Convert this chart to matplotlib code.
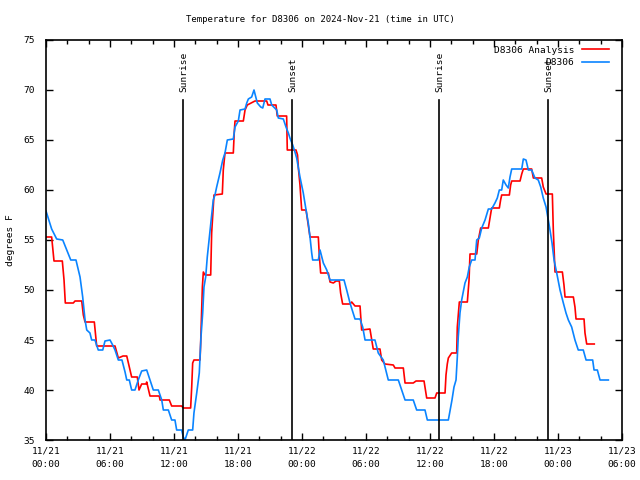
import matplotlib
matplotlib.use("Agg")
import matplotlib.pyplot as plt
from matplotlib.ticker import MultipleLocator

plt.rcParams['font.family'] = ['DejaVu Sans Mono']

# hours since 2024-11-21 00:00 UTC
blue_hours = [0.0, 0.53, 1.0, 1.57, 1.94, 2.32, 2.81, 3.19, 3.44, 3.66, 3.82, 4.12, 4.28,
              4.59, 4.9, 5.32, 5.53, 6.0, 6.25, 6.47, 6.78, 7.12, 7.41, 7.57, 7.81, 8.03,
              8.34, 8.65, 8.97, 9.44, 9.75, 10.06, 10.53, 10.85, 11.0, 11.47, 11.78, 12.09,
              12.25, 12.72, 12.87, 13.03, 13.34, 13.75, 13.87, 14.13, 14.37, 14.53, 14.69,
              14.81, 14.97, 15.12, 15.31, 15.53, 15.68, 15.84, 16.0, 16.31, 16.57, 16.78,
              17.0, 17.56, 17.72, 18.03, 18.19, 18.66, 18.82, 18.97, 19.28, 19.5, 19.69,
              19.81, 20.13, 20.32, 20.53, 21.0, 21.16, 21.63, 21.78, 22.25, 22.5, 22.72,
              22.87, 23.13, 23.34, 23.5, 23.81, 24.12, 24.38, 24.59, 24.75, 24.91, 25.0,
              25.53, 25.69, 26.0, 26.32, 26.63, 27.94, 28.19, 28.5, 28.97, 29.44, 29.69,
              29.91, 30.84, 31.15, 31.62, 32.09, 33.03, 33.35, 33.66, 34.43, 34.75, 35.53,
              35.75, 37.72, 37.94, 38.06, 38.25, 38.44, 38.56, 38.65, 38.81, 38.97, 39.12,
              39.28, 39.5, 39.68, 39.91, 40.22, 40.38, 40.62, 40.85, 41.16, 41.47, 41.78,
              42.09, 42.31, 42.5, 42.72, 42.87, 43.13, 43.34, 43.5, 43.66, 44.6, 44.75,
              45.0, 45.22, 45.53, 45.84, 46.15, 46.38, 46.62, 46.88, 47.09, 47.25, 47.44,
              47.63, 47.88, 48.19, 48.5, 48.75, 48.97, 49.28, 49.59, 49.9, 50.37, 50.63,
              51.25, 51.38, 51.69, 51.94, 52.72]
blue_temps = [57.9, 56.1, 55.1, 55.0, 54.0, 53.0, 53.0, 51.3, 49.3, 47.0, 46.0, 45.7, 45.0,
              45.0, 44.0, 44.0, 44.9, 45.0, 44.5, 44.0, 43.0, 43.0, 41.8, 41.0, 41.0, 40.0,
              40.0, 41.0, 41.9, 42.0, 41.0, 40.0, 40.0, 39.0, 38.0, 38.0, 37.0, 37.0,
              36.0, 36.0, 35.3, 35.0, 36.0, 36.0, 37.7, 39.7, 41.7, 45.3, 47.7,
              50.3, 51.3, 53.3, 55.2, 57.5, 59.0, 59.5, 60.3, 61.7, 63.0, 63.7,
              65.0, 65.1, 66.3, 66.9, 68.0, 68.1, 68.7, 69.1, 69.3, 70.0, 69.2,
              68.7, 68.3, 68.2, 69.1, 69.1, 68.5, 68.0, 67.2, 67.1, 66.3, 65.7,
              65.2, 64.5, 63.8, 63.2, 61.3, 59.7, 58.0, 56.7, 55.3, 53.7, 53.0,
              53.0, 54.0, 52.7, 52.0, 51.0, 51.0, 50.0, 48.7, 47.1, 47.1, 46.3,
              45.0, 45.0, 43.7, 43.0, 41.0, 41.0, 40.0, 39.0, 39.0, 38.0, 38.0,
              37.0, 37.0, 38.3, 39.0, 40.3, 41.0, 43.3, 45.3, 47.7, 49.0, 49.8,
              50.7, 51.3, 52.3, 53.0, 53.0, 55.0, 55.2, 56.2, 57.0, 58.1, 58.1,
              58.7, 59.2, 60.0, 60.0, 61.0, 60.5, 60.2, 61.3, 62.1, 62.1, 63.1,
              63.0, 62.0, 62.0, 61.2, 61.0, 60.3, 59.2, 58.3, 57.0, 56.0, 54.7,
              53.0, 51.7, 50.0, 48.7, 47.7, 47.0, 46.3, 45.0, 44.0, 44.0, 43.0,
              43.0, 42.0, 42.0, 41.0, 41.0]

red_hours = [0.0, 0.53, 0.75, 1.53, 1.69, 1.81, 2.56, 2.72, 3.35, 3.5, 3.66, 4.53, 4.75,
             6.47, 6.78, 7.22, 7.57, 8.03, 8.56, 8.72, 8.97, 9.38, 9.44, 9.75, 10.62, 10.69,
             11.56, 11.78, 12.72, 12.87, 13.56, 13.66, 13.75, 13.87, 14.44, 14.5, 14.66,
             14.75, 14.91, 15.44, 15.53, 15.75, 16.53, 16.62, 16.78, 17.56, 17.65, 17.72,
             18.5, 18.66, 18.87, 19.59, 20.69, 20.81, 21.56, 21.68, 22.56, 22.62, 23.44,
             23.58, 23.66, 23.81, 23.97, 24.38, 24.59, 24.75, 25.53, 25.62, 25.75, 26.47,
             26.63, 26.94, 27.19, 27.5, 27.62, 27.81, 28.5, 28.66, 28.97, 29.44, 29.59,
             30.37, 30.68, 31.31, 31.47, 31.78, 32.56, 32.72, 33.5, 33.66, 34.43, 34.69,
             35.44, 35.69, 36.47, 36.63, 37.41, 37.5, 37.62, 37.72, 38.03, 38.5, 38.56,
             38.75, 39.5, 39.66, 39.75, 40.38, 40.53, 40.75, 41.47, 41.63, 41.78, 42.5,
             42.62, 42.72, 43.44, 43.56, 43.66, 44.44, 44.6, 44.75, 45.53, 45.69, 46.47,
             46.62, 46.88, 47.47, 47.56, 47.72, 48.41, 48.56, 48.66, 49.44, 49.59, 49.69,
             50.44, 50.53, 50.69, 51.4]
red_temps = [55.3, 55.3, 52.9, 52.9, 51.0, 48.7, 48.7, 48.9, 48.9, 47.5, 46.8, 46.8, 44.4,
             44.4, 43.2, 43.4, 43.4, 41.3, 41.3, 40.0, 40.6, 40.6, 40.8, 39.4, 39.4, 39.0,
             39.0, 38.4, 38.4, 38.2, 38.2, 40.3, 42.7, 43.0, 43.0, 44.7, 50.3,
             51.8, 51.5, 51.5, 55.7, 59.5, 59.6, 62.0, 63.7, 63.7, 65.8, 66.9,
             66.9, 68.0, 68.5, 68.9, 68.9, 68.5, 68.5, 67.4, 67.4, 64.0, 64.0,
             63.5, 62.2, 60.5, 58.0, 58.0, 56.5, 55.3, 55.3, 53.5, 51.7, 51.7,
             50.8, 50.7, 50.9, 50.9, 49.7, 48.6, 48.6, 48.8, 48.4, 48.4, 46.0,
             46.1, 44.1, 44.1, 43.0, 42.6, 42.5, 42.2, 42.2, 40.7, 40.7, 40.9,
             40.9, 39.2, 39.2, 39.7, 39.7, 41.5, 42.6, 43.2, 43.7, 43.7, 46.3,
             48.8, 48.8, 51.0, 53.6, 53.6, 55.0, 56.2, 56.2, 57.2, 58.2, 58.2,
             59.0, 59.5, 59.5, 60.5, 60.9, 60.9, 61.6, 62.1, 62.1, 61.2, 61.2,
             60.3, 59.6, 59.6, 56.0, 51.8, 51.8, 50.5, 49.3, 49.3, 48.3, 47.1,
             47.1, 45.7, 44.6, 44.6]

sun_hours = [12.84, 23.06, 36.84, 47.06]
sun_labels = ['Sunrise', 'Sunset', 'Sunrise', 'Sunset']

tick_hours = [0, 6, 12, 18, 24, 30, 36, 42, 48, 54]
tick_labels = ['11/21\n00:00', '11/21\n06:00', '11/21\n12:00', '11/21\n18:00',
               '11/22\n00:00', '11/22\n06:00', '11/22\n12:00', '11/22\n18:00',
               '11/23\n00:00', '11/23\n06:00']

fs = 6.8

fig = plt.figure(figsize=(6.4, 4.8), dpi=100)
ax = fig.add_axes([46/640, 40/480, 576/640, 400/480])

ax.plot(red_hours, red_temps, color='#ff0000', lw=1.2, label='D8306 Analysis')
ax.plot(blue_hours, blue_temps, color='#0a84ff', lw=1.2, label='D8306')

for h, lab in zip(sun_hours, sun_labels):
    ax.plot([h, h], [35, 69], color='black', lw=1.2)
    ax.text(h + 0.1, 69.8, lab, rotation=90, ha='center', va='bottom', fontsize=fs)

ax.set_xlim(0, 54)
ax.set_ylim(35, 75)
ax.set_xticks(tick_hours)
ax.set_xticklabels(tick_labels, fontsize=fs, linespacing=1.55)
ax.xaxis.set_minor_locator(MultipleLocator(2))
ax.set_yticks(range(35, 80, 5))
ax.tick_params(axis='y', labelsize=fs)
ax.tick_params(which='both', direction='in', top=True, right=True, width=1)
ax.tick_params(which='major', length=5, pad=5)
ax.tick_params(which='minor', length=3)
ax.tick_params(axis='y', pad=8)
for s in ax.spines.values():
    s.set_linewidth(1.2)

ax.set_ylabel('degrees F', fontsize=fs, labelpad=6)
fig.text(0.5, 1 - 19/480, 'Temperature for D8306 on 2024-Nov-21 (time in UTC)',
         ha='center', va='center', fontsize=6.5)

ax.legend(loc='upper right', bbox_to_anchor=(1 - 7/576, 1.0), markerfirst=False,
          frameon=False, fontsize=fs, handlelength=2.9, labelspacing=0.35,
          borderaxespad=0.2, handletextpad=0.8)

fig.savefig('out.png', dpi=100)
